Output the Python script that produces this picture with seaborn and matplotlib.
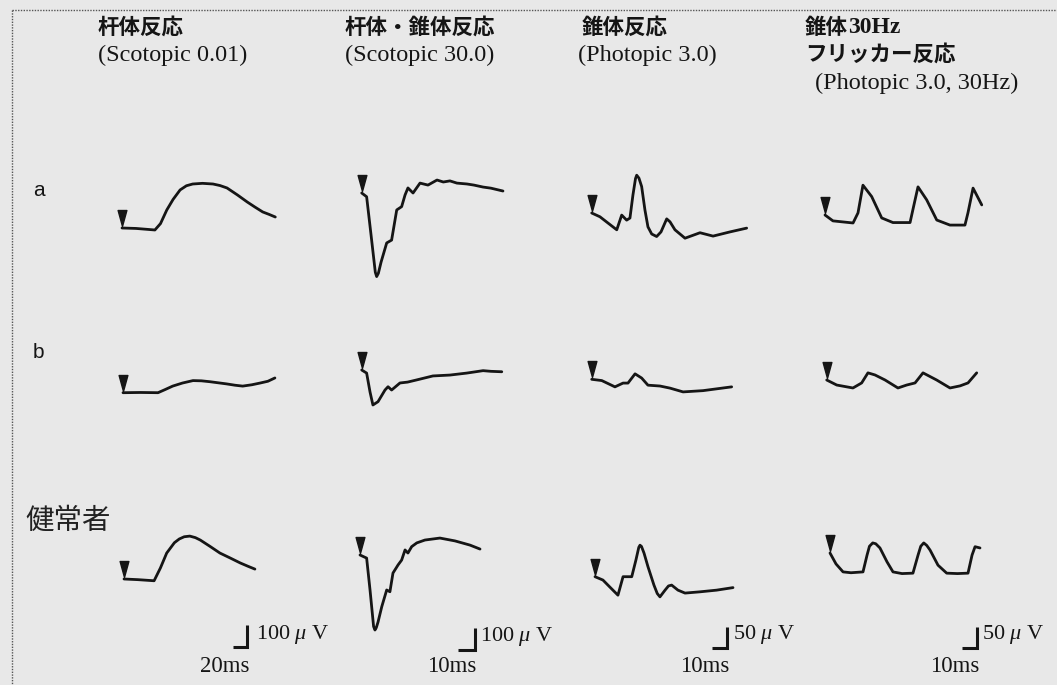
import numpy as np
import pandas as pd
import seaborn as sns
import matplotlib
matplotlib.use("Agg")
import matplotlib.pyplot as plt
from matplotlib.path import Path
from matplotlib.transforms import offset_copy

# ---------------- data (time in ms, amplitude in µV, relative to stimulus onset) ----------------
header_jp = ["杆体反応", "杆体・錐体反応", "錐体反応", "錐体"]
header_jp_tail = ["", "", "", "30Hz"]
header_jp2 = ["", "", "", "フリッカー反応"]
header_en = ["(Scotopic 0.01)", "(Scotopic 30.0)", "(Photopic 3.0)", "(Photopic 3.0, 30Hz)"]
row_labels = ["a", "b", "健常者"]
scale_ms = [20, 10, 10, 10]
scale_uv = [100, 100, 50, 50]

# column 1 : rod response
rod_a_t = [0, 20, 47, 55, 64, 73, 83, 92, 101, 115, 130, 140, 150, 165, 179, 190, 201, 210, 219]
rod_a_v = [0, -2, -9, 20, 82, 130, 173, 192, 200, 203, 200, 193, 182, 150, 118, 95, 73, 62, 50]
rod_b_t = [0, 25, 50, 60, 71, 85, 100, 112, 124, 136, 148, 160, 171, 184, 196, 207, 217]
rod_b_v = [0, 1, 0, 14, 30, 44, 55, 54, 50, 45, 40, 34, 30, 36, 44, 52, 67]
rod_c_t = [0, 20, 43, 52, 61, 72, 79, 86, 94, 102, 109, 123, 137, 152, 166, 177, 187]
rod_c_v = [0, -3, -8, 50, 118, 165, 182, 192, 195, 188, 177, 148, 118, 95, 73, 58, 45]

# column 2 : mixed rod-cone response
mix_a_t = [0, 2.9, 5.5, 8.0, 8.8, 9.8, 11.4, 14.7, 17.6, 20.6, 23.5, 25.5, 27.2, 30.2, 34.3, 39.0, 44.3,
           48.0, 51.9, 56.0, 61.9, 66.0, 71.4, 76.0, 83.1]
mix_a_v = [0, -17, -191, -360, -380, -365, -314, -227, -214, -77, -62, -9, 23, 0, 45, 36, 59,
           50, 55, 45, 41, 36, 27, 22, 9]
mix_b_t = [0, 2.9, 4.9, 6.6, 9.6, 13.7, 15.5, 17.6, 22.5, 27.0, 32.4, 41.9, 51.9, 61.8, 71.4, 76.0, 82.4]
mix_b_v = [0, -14, -100, -159, -144, -91, -76, -91, -59, -55, -45, -27, -23, -14, -3, -6, -8]
mix_c_t = [0, 3.9, 5.9, 8.0, 8.8, 9.6, 10.6, 12.8, 15.7, 17.6, 19.4, 22.4, 24.5, 26.5, 28.2, 30.4, 33.4,
           38.2, 47.0, 55.9, 64.7, 70.6]
mix_c_v = [0, -14, -159, -325, -341, -330, -305, -235, -159, -167, -82, -45, -23, 23, 9, 38, 55,
           68, 77, 64, 45, 27]

# column 3 : cone response
cone_a_t = [0, 5.5, 10.9, 16.7, 20.0, 23.3, 25.5, 27.5, 29.2, 30.0, 31.5, 33.3, 35.5, 37.5, 40.0, 43.3, 46.2,
            50.0, 52.2, 55.5, 62.2, 72.2, 80.9, 92.2, 103.3]
cone_a_v = [0, -9, -24, -40, -5, -17, -12, 43, 82, 90, 83, 63, 7, -33, -50, -56, -45,
            -14, -21, -40, -60, -47, -55, -45, -36]
cone_b_t = [0, 6.7, 15.5, 20.9, 24.2, 28.9, 33.3, 37.5, 45.5, 52.2, 60.9, 74.2, 93.3]
cone_b_v = [0, -3, -18, -9, -9, 13, 3, -14, -16, -21, -30, -27, -18]
cone_c_t = [0, 5.3, 10.0, 15.3, 18.7, 24.5, 27.3, 29.2, 30.0, 31.0, 32.7, 35.3, 39.3, 41.5, 43.3, 46.7, 49.0,
            51.1, 55.3, 60.0, 70.0, 81.1, 92.0]
cone_c_v = [0, -8, -25, -44, 0, 0, 40, 70, 75, 72, 56, 24, -20, -40, -48, -32, -22,
            -20, -32, -39, -36, -32, -26]

# column 4 : 30 Hz flicker response
flk_a_t = [0, 5.3, 18.7, 22.0, 25.3, 31.1, 37.8, 45.3, 56.7, 59.3, 62.0, 67.8, 74.5, 83.3,
           93.3, 95.3, 98.7, 104.5]
flk_a_v = [0, -14, -19, 5, 71, 44, -7, -18, -18, 24, 67, 36, -12, -24,
           -24, 5, 64, 24]
flk_b_t = [0, 6.7, 17.5, 23.3, 27.5, 32.2, 38.9, 47.5, 53.3, 58.9, 64.2, 73.3, 82.2, 88.9, 94.2, 100.0]
flk_b_v = [0, -12, -19, -7, 17, 12, 0, -19, -12, -7, 17, 0, -19, -14, -7, 17]
flk_c_t = [0, 4.0, 8.7, 14.0, 22.0, 24.7, 26.3, 28.5, 30.5, 33.3, 38.0, 42.0, 48.0, 55.3, 58.7, 60.5,
           62.5, 64.5, 66.7, 72.0, 77.8, 85.0, 92.0, 94.7, 96.7, 100.0]
flk_c_v = [0, -26, -45, -47, -45, -5, 16, 24, 22, 12, -21, -45, -49, -48, -5, 16,
           24, 18, 7, -29, -48, -49, -48, -5, 15, 12]

traces = [
    [(rod_a_t, rod_a_v), (mix_a_t, mix_a_v), (cone_a_t, cone_a_v), (flk_a_t, flk_a_v)],
    [(rod_b_t, rod_b_v), (mix_b_t, mix_b_v), (cone_b_t, cone_b_v), (flk_b_t, flk_b_v)],
    [(rod_c_t, rod_c_v), (mix_c_t, mix_c_v), (cone_c_t, cone_c_v), (flk_c_t, flk_c_v)],
]

# ---------------- layout (pixels) ----------------
W, H = 1057, 685
kx = [0.70, 1.70, 1.50, 1.50]      # px per ms
ky = [0.22, 0.22, 0.42, 0.42]      # px per µV
anchors = [
    [(122, 228), (361.7, 193), (591.7, 213), (825, 215)],
    [(123, 392.7), (361.7, 370), (591.7, 379.3), (826.7, 380)],
    [(124, 579), (360, 555), (595, 576.7), (830, 553)],
]
bar_corner = [(246.7, 646.5), (475, 650), (726.7, 648), (976.7, 648)]
uv_label_pos = [(256, 634), (480, 636), (733, 634), (982, 634)]
ms_label_pos = [(225, 666), (452, 667), (705, 667), (955, 667)]
ink = "#151515"
bg = "#e8e8e8"

sns.set_theme(style="white")
plt.rcParams["font.family"] = ["Liberation Serif", "Noto Sans CJK JP"]
plt.rcParams["mathtext.fontset"] = "custom"
plt.rcParams["mathtext.rm"] = "Liberation Serif"
plt.rcParams["mathtext.it"] = "Liberation Serif:italic"

fig = plt.figure(figsize=(W / 100, H / 100), dpi=100, facecolor=bg)
base = fig.add_axes([0, 0, 1, 1])
base.set_xlim(0, W)
base.set_ylim(H, 0)
base.axis("off")

# dotted frame
base.plot([12, W], [10, 10], color="#555555", lw=1.0, ls=(0, (1, 1)))
base.plot([12, 12], [10, H], color="#555555", lw=1.0, ls=(0, (1, 1)))

jp = ["Noto Sans CJK JP", "DejaVu Sans"]
serif = ["Liberation Serif", "Noto Sans CJK JP"]

hdr_x = [98, 345, 582, 805]
en_x = [98, 345, 578, 815]
for i in range(4):
    t1 = base.text(hdr_x[i], 27, header_jp[i], family=jp, fontsize=15.5, weight="bold",
                   color=ink, va="center", ha="left")
    if header_jp_tail[i]:
        base.annotate(header_jp_tail[i], xy=(1, 0.5), xycoords=t1, va="center", ha="left",
                      family=serif, fontsize=17, weight="bold", color=ink)
    if header_jp2[i]:
        base.text(hdr_x[i], 54, header_jp2[i], family=jp, fontsize=15.5, weight="bold",
                  color=ink, va="center", ha="left")
        base.text(en_x[i], 83, header_en[i], family=serif, fontsize=17.5, color=ink,
                  va="center", ha="left")
    else:
        base.text(en_x[i], 55, header_en[i], family=serif, fontsize=17.5, color=ink,
                  va="center", ha="left")

row_y = [190, 352, 521]
base.text(33, row_y[0], row_labels[0], family=["Liberation Sans"], fontsize=15, color=ink,
          va="center", ha="left")
base.text(33, row_y[1], row_labels[1], family=["Liberation Sans"], fontsize=15, color=ink,
          va="center", ha="left")
base.text(25, row_y[2], row_labels[2], family=jp, fontsize=20.5, color="#222222",
          va="center", ha="left")

for c in range(4):
    ux, uy = uv_label_pos[c]
    base.text(ux, uy, f"{scale_uv[c]} " + r"$\mu$" + " V", family=serif, fontsize=16,
              color=ink, va="center", ha="left")
    mx, my = ms_label_pos[c]
    base.text(mx, my, f"{scale_ms[c]}ms", family=serif, fontsize=16.5, color=ink,
              va="center", ha="center")

tri = Path([(-0.55, 1), (0.55, 1), (0, -1), (-0.55, 1)],
           [Path.MOVETO, Path.LINETO, Path.LINETO, Path.CLOSEPOLY])


def panel(x0, y0, cx, cy):
    ax = fig.add_axes([0, 0, 1, 1], label=f"p{x0}_{y0}")
    ax.patch.set_alpha(0)
    ax.axis("off")
    return ax


for r in range(3):
    for c in range(4):
        x0, y0 = anchors[r][c]
        ax = panel(x0, y0, kx[c], ky[c])
        t, v = traces[r][c]
        df = pd.DataFrame({"t": t, "v": v})
        sns.lineplot(data=df, x="t", y="v", ax=ax, color=ink, linewidth=2.0,
                     estimator=None, sort=False)
        ax.plot([0], [0], marker=tri, ms=11.5, color=ink, ls="none",
                transform=offset_copy(ax.transData, fig=fig, x=0, y=10, units="dots"))
        if r == 2:
            bx, by = bar_corner[c]
            tc = (bx - x0) / kx[c]
            vc = (y0 - by) / ky[c]
            ax.plot([tc - scale_ms[c], tc, tc], [vc, vc, vc + scale_uv[c]], color=ink,
                    lw=2.2, solid_joinstyle="miter", solid_capstyle="butt")
        ax.set_xlim(-x0 / kx[c], (W - x0) / kx[c])
        ax.set_ylim(-(H - y0) / ky[c], y0 / ky[c])
        ax.axis("off")

fig.savefig("out.png", dpi=100, facecolor=bg)
